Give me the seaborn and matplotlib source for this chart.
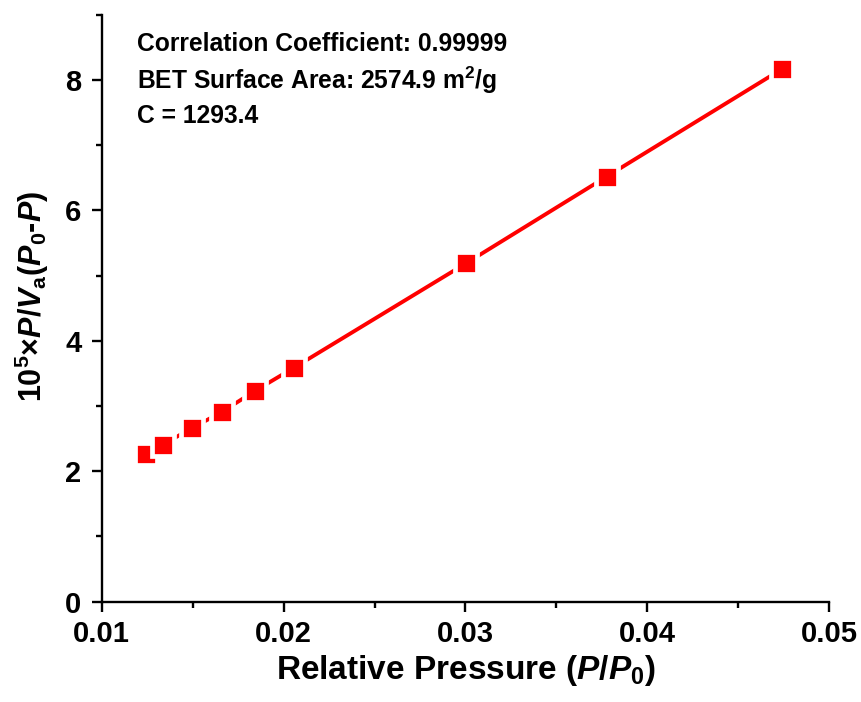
import matplotlib
matplotlib.use("Agg")
import matplotlib.pyplot as plt
import seaborn as sns
import pandas as pd
from matplotlib.ticker import MultipleLocator

# BET plot data
relative_pressure = [0.01245, 0.01337, 0.01495, 0.01661, 0.01841, 0.02058, 0.03003, 0.03776, 0.0474]
bet_transform = [2.26, 2.41, 2.66, 2.91, 3.23, 3.59, 5.19, 6.52, 8.17]

x_ticks = [0.01, 0.02, 0.03, 0.04, 0.05]
y_ticks = [0, 2, 4, 6, 8]

summary_lines = [
    "Correlation Coefficient: 0.99999",
    r"BET Surface Area: 2574.9 m$^{\mathrm{2}}$/g",
    "C = 1293.4",
]

sns.set_theme(style="ticks")
plt.rcParams["font.family"] = ["Liberation Sans", "DejaVu Sans"]
plt.rcParams["font.weight"] = "bold"
plt.rcParams["mathtext.fontset"] = "custom"
plt.rcParams["mathtext.rm"] = "Liberation Sans:bold"
plt.rcParams["mathtext.bf"] = "Liberation Sans:bold"
plt.rcParams["mathtext.it"] = "Liberation Sans:italic:bold"

df = pd.DataFrame({"p": relative_pressure, "v": bet_transform})

fig = plt.figure(figsize=(8.61, 7.02), dpi=100)
ax = fig.add_axes([0.1181, 0.1429, 0.9632 - 0.1181, 0.9788 - 0.1429])

sns.lineplot(
    data=df, x="p", y="v", ax=ax, color="#ff0000", linewidth=2.8,
    marker="s", markersize=15.5, markerfacecolor="#ff0000",
    markeredgecolor="white", markeredgewidth=3.4, sort=True,
)

ax.set_xlim(0.01, 0.05)
ax.set_ylim(0, 9)
ax.set_xticks(x_ticks)
ax.set_xticklabels([f"{t:.2f}" for t in x_ticks])
ax.set_yticks(y_ticks)
ax.set_yticklabels([str(t) for t in y_ticks])
ax.xaxis.set_minor_locator(MultipleLocator(0.005))
ax.yaxis.set_minor_locator(MultipleLocator(1))

for side in ("top", "right"):
    ax.spines[side].set_visible(False)
for side in ("left", "bottom"):
    ax.spines[side].set_linewidth(1.7)
    ax.spines[side].set_color("black")

ax.tick_params(which="major", direction="out", length=7.5, width=1.7,
               labelsize=21, color="black", labelcolor="black")
ax.tick_params(axis="x", which="major", pad=6)
ax.tick_params(axis="y", which="major", pad=7)
ax.tick_params(which="minor", direction="out", length=4, width=1.7, color="black")
for lab in ax.get_xticklabels() + ax.get_yticklabels():
    lab.set_fontweight("bold")

ax.set_xlabel(r"Relative Pressure ($\mathit{P}$/$\mathit{P}_{\mathrm{0}}$)",
              fontsize=24, fontweight="bold", color="black")
ax.set_ylabel(r"10$^{\mathrm{5}}$×$\mathit{P}$/$\mathit{V}_{\mathrm{a}}$($\mathit{P}_{\mathrm{0}}$-$\mathit{P}$)",
              fontsize=22, fontweight="bold", color="black")
ax.xaxis.set_label_coords(0.5, -0.087)
ax.yaxis.set_label_coords(-0.07, 0.52)

y_pos = [0.951, 0.888, 0.827]
for txt, yp in zip(summary_lines, y_pos):
    ax.text(0.049, yp, txt, transform=ax.transAxes, fontsize=17.7,
            fontweight="bold", color="black", ha="left", va="center")

fig.savefig("out.png", dpi=100, facecolor="white")
